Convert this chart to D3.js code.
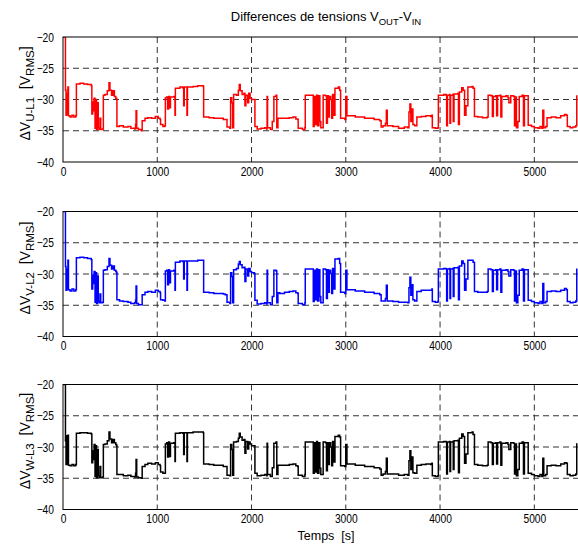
<!DOCTYPE html>
<html>
<head>
<meta charset="utf-8">
<script src="https://cdn.jsdelivr.net/npm/d3@7"></script>
<style>
html, body { margin: 0; padding: 0; background: #fff; }
svg { display: block; font-family: "Liberation Sans", Arial, sans-serif; }
</style>
</head>
<body>
<svg id="chart" width="578" height="545"></svg>
<script>
// ---------- DATA ----------
const xTicks = [0, 1000, 2000, 3000, 4000, 5000];
const yTicks = [-40, -35, -30, -25, -20];
const titleMain = "Differences de tensions V";
const titleSub1 = "OUT";
const titleSub2 = "IN";
const xLabel = "Temps\u00a0\u00a0[s]";
const panelSubs = ["U-L1", "V-L2", "W-L3"];
const panelColors = ["#ff0000", "#0000ff", "#000000"];

const timeS = [
  0,24,26,32,40,46,52,58,75,95,
  115,135,142,180,220,260,300,306,315,322,
  330,340,348,356,366,374,385,392,400,420,
  428,445,470,488,498,515,530,545,560,569,
  572,600,640,689,720,760,770,775,782,800,
  830,840,870,900,940,980,1010,1030,1035,1060,
  1080,1086,1100,1110,1120,1130,1140,1175,1188,1192,
  1240,1270,1280,1286,1310,1315,1320,1380,1430,1470,
  1488,1492,1550,1600,1650,1700,1720,1740,1770,1778,
  1790,1800,1810,1840,1860,1870,1880,1900,1920,1930,
  1940,1960,1970,1985,2000,2030,2036,2060,2100,2140,
  2160,2165,2170,2200,2220,2237,2260,2268,2280,2300,
  2350,2400,2440,2470,2490,2495,2540,2566,2570,2600,
  2630,2655,2665,2675,2690,2700,2715,2725,2735,2760,
  2785,2795,2805,2815,2825,2840,2850,2860,2875,2885,
  2920,2935,2945,2990,3000,3012,3100,3200,3300,3360,
  3375,3395,3420,3430,3440,3500,3560,3620,3658,3670,
  3680,3690,3700,3712,3730,3754,3800,3850,3900,3913,
  3918,3950,3977,3982,4040,4065,4070,4078,4100,4105,
  4112,4135,4140,4148,4190,4195,4205,4225,4230,4245,
  4260,4275,4295,4340,4350,4365,4400,4450,4500,4510,
  4540,4555,4565,4590,4600,4610,4635,4645,4655,4700,
  4720,4730,4750,4780,4790,4800,4810,4825,4840,4870,
  4885,4895,4925,4935,4970,5000,5040,5060,5080,5090,
  5100,5120,5135,5180,5230,5280,5320,5340,5350,5380,
  5410,5440,5450
];

const deltaU = [
  -20,-20,-28.5,-32.5,-29,-32.3,-28,-32.6,-32.8,-32.5,
  -32.8,-32.6,-27.5,-27.4,-27.5,-27.6,-27.8,-32.3,-30.4,-31.8,
  -29.8,-34.6,-30,-34.8,-30.5,-34.5,-34.8,-33,-34.8,-34.7,
  -29.3,-29.2,-28.6,-27.3,-28.5,-29.3,-28.6,-29.5,-29.8,-29.9,
  -34.3,-34.2,-34.4,-34.3,-34.6,-34.7,-34,-31.8,-34.6,-34.8,
  -35,-33.4,-33,-32.9,-33,-32.7,-33,-33.2,-34,-34.3,
  -34.2,-29.7,-29.6,-31.5,-29.5,-31.3,-29.6,-29.5,-32.5,-28.2,
  -28,-28.1,-31,-28,-28,-32.5,-28,-27.9,-27.8,-27.8,
  -27.9,-32.8,-32.9,-33,-33,-33.2,-33.2,-34.4,-34.6,-29.7,
  -30.5,-34.5,-29.2,-29.3,-28.5,-27.6,-28.6,-29.2,-29,-31,
  -29.3,-30.5,-29,-29.8,-30,-30,-34.3,-34.7,-34.6,-34.5,
  -34.7,-29.5,-34.5,-34.8,-33.5,-29.5,-29.3,-34.5,-33,-33,
  -33,-32.9,-32.8,-33.1,-33.2,-34.6,-34.8,-34.5,-29.3,-29.3,
  -29.3,-34.3,-29.5,-34,-29.3,-34.2,-29.4,-33.5,-34.5,-29.3,
  -29.4,-33.8,-29.4,-32.8,-29.5,-30,-33,-29.2,-32.5,-28.2,
  -28,-28.5,-33,-33.2,-29.5,-32.6,-32.8,-33,-33.2,-33.4,
  -34.4,-34.2,-33.8,-31.7,-34.2,-34.3,-34.6,-34.4,-34.5,-32,
  -30.7,-33.5,-31.5,-34,-34.2,-32.8,-32.7,-32.6,-32.7,-32.5,
  -34.5,-34.6,-34.5,-29.3,-29.2,-29.3,-34.2,-29.3,-29.2,-33.8,
  -29.3,-29.2,-33.5,-29.1,-29,-34,-28.8,-28.8,-28.1,-28.5,
  -32.5,-31,-28,-27.9,-28.2,-32.7,-32.8,-32.9,-32.8,-29.3,
  -29.4,-32.7,-29.5,-29.4,-32.6,-29.4,-29.3,-32.8,-29.5,-29.4,
  -29.7,-30.5,-29.4,-29.5,-34.2,-29.6,-34.5,-33.5,-29.5,-29.3,
  -34.2,-29.4,-29.4,-34.1,-34.3,-34.5,-34.6,-34.3,-34.6,-31.7,
  -34.5,-34.3,-32.9,-32.8,-32.9,-32.6,-32.4,-32.5,-34.3,-34.5,
  -34.4,-34.2,-29.3
];

const deltaV = [
  -20,-20,-28.8,-32.6,-29.2,-32.4,-27.8,-32.5,-32.7,-32.4,
  -32.7,-32.5,-27.4,-27.3,-27.4,-27.5,-27.7,-32.4,-30.2,-31.5,
  -29.6,-34.5,-29.8,-34.7,-30.3,-34.4,-34.6,-33.2,-34.6,-34.5,
  -29.4,-29.3,-28.8,-27.5,-28.6,-29.2,-28.7,-29.4,-29.6,-29.8,
  -34.1,-34.3,-34.4,-34.5,-34.7,-34.6,-34.2,-31.9,-34.7,-34.9,
  -34.9,-33.3,-32.9,-32.8,-32.9,-32.6,-32.8,-33,-34.1,-34.2,
  -34.3,-29.5,-29.4,-31.7,-29.3,-31.4,-29.5,-29.4,-32.6,-28.1,
  -27.9,-28,-30.8,-27.9,-27.9,-32.6,-27.9,-27.9,-27.8,-27.8,
  -27.8,-32.9,-33,-33.1,-33.1,-33.2,-33.3,-34.5,-34.7,-29.8,
  -30.4,-34.6,-29.3,-29.1,-28.4,-28,-28.5,-29,-28.9,-31.2,
  -29.2,-30.3,-29.1,-29.6,-29.8,-29.9,-34.2,-34.8,-34.7,-34.6,
  -34.8,-29.4,-34.6,-34.9,-33.6,-29.4,-29.5,-34.6,-33,-33.1,
  -32.9,-32.8,-32.7,-33,-33.1,-34.7,-34.9,-34.6,-29.2,-29.2,
  -29.2,-34.4,-29.4,-34.1,-29.2,-34.3,-29.3,-33.6,-34.6,-29.2,
  -29.3,-33.9,-29.3,-32.9,-29.4,-29.9,-33.1,-29.1,-32.4,-27.6,
  -27.5,-28.3,-32.9,-33.1,-29.4,-32.5,-32.7,-32.9,-33.1,-33.3,
  -34.3,-34.3,-33.9,-31.8,-34.3,-34.4,-34.5,-34.5,-34.6,-32.2,
  -30.5,-33.4,-31.7,-34.1,-34.3,-32.8,-32.6,-32.6,-32.6,-32.4,
  -34.4,-34.5,-34.4,-29.2,-29.1,-29.2,-34.3,-29.2,-29.1,-33.9,
  -29.2,-29.1,-33.6,-29,-28.9,-34.1,-28.7,-28.7,-27.9,-28.3,
  -32.6,-30.8,-27.8,-27.8,-28.1,-32.8,-32.9,-32.9,-32.8,-29.2,
  -29.3,-32.8,-29.4,-29.3,-32.5,-29.3,-29.2,-32.9,-29.4,-29.3,
  -29.6,-30.3,-29.3,-29.4,-34.3,-29.5,-34.6,-33.4,-29.4,-29.2,
  -34.3,-29.3,-29.3,-34.2,-34.4,-34.6,-34.7,-34.4,-34.7,-31.5,
  -34.6,-34.4,-32.8,-32.7,-32.8,-32.6,-32.3,-32.5,-34.4,-34.6,
  -34.5,-34.3,-29.1
];

const deltaW = [
  -20,-20,-29,-32.8,-28.2,-32.7,-28.1,-32.9,-33,-32.8,
  -33,-32.8,-27.8,-27.7,-27.7,-27.8,-27.9,-32.5,-30.6,-32,
  -29.6,-34.7,-29.8,-34.9,-30.4,-34.6,-34.9,-33.1,-34.9,-34.8,
  -29.6,-29.5,-29,-27.6,-28.7,-29.3,-28.8,-29.3,-29.6,-29.8,
  -34.4,-34.4,-34.6,-34.5,-34.7,-34.8,-34.2,-32,-34.8,-34.9,
  -35,-33.1,-32.8,-32.6,-32.7,-32.5,-32.8,-33,-34,-34.2,
  -34.2,-29.5,-29.3,-31.6,-29.2,-31.5,-29.4,-29.3,-32.3,-27.8,
  -27.7,-27.8,-31.2,-27.7,-27.7,-32.3,-27.7,-27.6,-27.6,-27.6,
  -27.7,-32.7,-32.8,-32.9,-32.9,-33.1,-33.1,-34.5,-34.6,-29.6,
  -30.4,-34.5,-29.2,-29.1,-28.6,-27.8,-28.4,-28.9,-28.8,-31,
  -29.1,-30.3,-29.2,-29.5,-29.8,-29.8,-34.2,-34.6,-34.5,-34.4,
  -34.6,-29.4,-34.4,-34.7,-33.3,-29.4,-29.2,-34.4,-32.9,-32.9,
  -32.9,-32.8,-32.7,-33,-33.1,-34.5,-34.7,-34.4,-29.2,-29.2,
  -29.2,-34.2,-29.3,-34,-29.1,-34.2,-29.3,-33.4,-34.4,-29.2,
  -29.3,-33.8,-29.3,-32.8,-29.3,-30,-33,-29.1,-32.4,-28.3,
  -28.1,-28.4,-33,-33.1,-29.6,-32.7,-32.9,-33.1,-33.3,-33.5,
  -34.5,-34.3,-33.9,-31.8,-34.3,-34.3,-34.5,-34.4,-34.5,-32.2,
  -30.6,-33.6,-31.6,-34.1,-34.2,-32.9,-32.8,-32.7,-32.8,-32.6,
  -34.6,-34.7,-34.6,-29.2,-29.1,-29.2,-34.3,-29.2,-29.1,-33.9,
  -29.2,-29.1,-33.6,-29,-28.9,-34.1,-28.6,-28.6,-27.9,-28.3,
  -32.6,-31.1,-27.7,-27.6,-28,-32.8,-32.9,-33,-32.9,-29.2,
  -29.3,-32.8,-29.4,-29.3,-32.7,-29.3,-29.2,-32.9,-29.4,-29.3,
  -29.6,-30.4,-29.3,-29.4,-34.3,-29.5,-34.6,-33.6,-29.4,-29.2,
  -34.3,-29.3,-29.3,-34.2,-34.4,-34.6,-34.7,-34.4,-34.7,-31.8,
  -34.6,-34.4,-33,-32.9,-33,-32.7,-32.5,-32.6,-34.4,-34.6,
  -34.5,-34.3,-29.4
];

const seriesList = [deltaU, deltaV, deltaW];

// ---------- LAYOUT ----------
const svg = d3.select("#chart");
const plotLeft = 63, plotRight = 589, plotH = 125;
const panelTops = [37, 211.5, 384.5];
const squeeze = 0.82;

const x = d3.scaleLinear().domain([0, 5580]).range([plotLeft, plotRight]);

// Title
const title = svg.append("text")
  .attr("x", 326).attr("y", 21)
  .attr("text-anchor", "middle")
  .attr("font-size", 13).attr("fill", "#000");
title.append("tspan").text(titleMain);
title.append("tspan").attr("dy", 3.5).attr("font-size", 9.5).text(titleSub1);
title.append("tspan").attr("dy", -3.5).text("-V");
title.append("tspan").attr("dy", 3.5).attr("font-size", 9.5).text(titleSub2);

panelTops.forEach((top, i) => {
  const y = d3.scaleLinear().domain([-40, -20]).range([top + plotH, top]);
  const g = svg.append("g");

  const clipId = "clip" + i;
  svg.append("clipPath").attr("id", clipId)
    .append("rect")
    .attr("x", plotLeft).attr("y", top)
    .attr("width", plotRight - plotLeft).attr("height", plotH);

  // grid
  g.selectAll(".gx").data(xTicks.filter(d => d > 0)).enter().append("line")
    .attr("x1", d => x(d)).attr("x2", d => x(d))
    .attr("y1", top).attr("y2", top + plotH)
    .attr("stroke", "#333").attr("stroke-width", 1)
    .attr("stroke-dasharray", "6,4");
  g.selectAll(".gy").data(yTicks.filter(d => d > -40 && d < -20)).enter().append("line")
    .attr("x1", plotLeft).attr("x2", plotRight)
    .attr("y1", d => y(d)).attr("y2", d => y(d))
    .attr("stroke", "#333").attr("stroke-width", 1)
    .attr("stroke-dasharray", "6,4");

  // data line
  const vals = seriesList[i];
  const pts = timeS.map((t, k) => [t, vals[k]]);
  const line = d3.line().curve(d3.curveStepAfter).x(d => x(d[0])).y(d => y(d[1]));
  g.append("path")
    .attr("clip-path", `url(#${clipId})`)
    .attr("d", line(pts))
    .attr("fill", "none")
    .attr("stroke", panelColors[i])
    .attr("stroke-width", 1.5);

  // frame
  g.append("rect")
    .attr("x", plotLeft).attr("y", top)
    .attr("width", plotRight - plotLeft).attr("height", plotH)
    .attr("fill", "none").attr("stroke", "#000").attr("stroke-width", 1);

  // axes
  const yAxis = d3.axisLeft(y).tickValues(yTicks).tickSize(0).tickPadding(9)
    .tickFormat(d3.format("d"));
  const ya = g.append("g").attr("transform", `translate(${plotLeft},0)`).call(yAxis);
  ya.select(".domain").remove();
  ya.selectAll("text").attr("font-size", 12.5).attr("fill", "#000")
    .attr("font-family", "Liberation Sans, Arial, sans-serif")
    .attr("x", -9 / squeeze)
    .attr("transform", `scale(${squeeze},1)`);

  const xAxis = d3.axisBottom(x).tickValues(xTicks).tickSize(0).tickPadding(5)
    .tickFormat(d3.format("d"));
  const xa = g.append("g").attr("transform", `translate(0,${top + plotH})`).call(xAxis);
  xa.select(".domain").remove();
  xa.selectAll("text").attr("font-size", 12.5).attr("fill", "#000")
    .attr("font-family", "Liberation Sans, Arial, sans-serif")
    .attr("transform", `scale(${squeeze},1)`);

  // y label
  const cy = top + plotH / 2 - 6;
  const lab = svg.append("text")
    .attr("transform", `translate(30,${cy}) rotate(-90)`)
    .attr("text-anchor", "middle")
    .attr("font-size", 14).attr("fill", "#000");
  lab.append("tspan").text("\u0394V");
  lab.append("tspan").attr("dy", 4).attr("font-size", 11.5).text(panelSubs[i]);
  lab.append("tspan").attr("dy", -4).text("\u00a0\u00a0[V");
  lab.append("tspan").attr("dy", 4).attr("font-size", 11.5).text("RMS");
  lab.append("tspan").attr("dy", -4).text("]");
});

// x label
svg.append("text")
  .attr("x", 326).attr("y", 540)
  .attr("text-anchor", "middle")
  .attr("font-size", 12.5).attr("fill", "#000")
  .text(xLabel);
</script>
</body>
</html>
